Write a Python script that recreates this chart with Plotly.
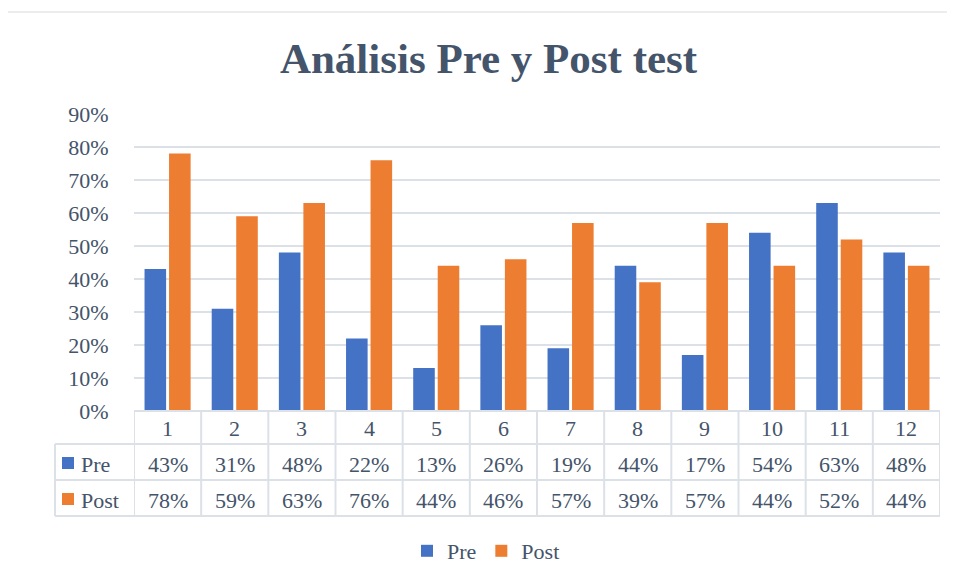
import plotly.graph_objects as go

categories = [1, 2, 3, 4, 5, 6, 7, 8, 9, 10, 11, 12]
pre_values = [43, 31, 48, 22, 13, 26, 19, 44, 17, 54, 63, 48]
post_values = [78, 59, 63, 76, 44, 46, 57, 39, 57, 44, 52, 44]
series_names = ["Pre", "Post"]
colors = ["#4472C4", "#ED7D31"]
title_text = "Análisis Pre y Post test"

W, H = 955, 581
OFF = 8  # page body margin offset
L = 134 - OFF
T = 114 - OFF
PLOT_BOTTOM = 411 - OFF
PLOT_RIGHT = 940 - OFF
R = W - PLOT_RIGHT
B = H - PLOT_BOTTOM
PW = W - L - R
PH = H - T - B
TXT = "#44546A"
GRID = "#DCE1E8"
FONT = "Liberation Serif, Times New Roman, serif"


def px_x(px):
    return (px - OFF - L) / PW


def px_y(py):
    return (PLOT_BOTTOM - (py - OFF)) / PH


fig = go.Figure()
for name, vals, col in zip(series_names, [pre_values, post_values], colors):
    fig.add_trace(go.Bar(x=categories, y=vals, name=name, marker=dict(color=col, line=dict(width=0))))

row_edges = [411, 444, 480, 516]
left_col = 55
n = len(categories)
shapes = []
line_style = dict(color=GRID, width=2)
shapes.append(dict(type="line", xref="paper", yref="paper", x0=0, x1=1,
                   y0=px_y(row_edges[0]), y1=px_y(row_edges[0]), line=line_style))
for ry in row_edges[1:]:
    shapes.append(dict(type="line", xref="paper", yref="paper", x0=px_x(left_col), x1=1,
                       y0=px_y(ry), y1=px_y(ry), line=line_style))
for i in range(n + 1):
    shapes.append(dict(type="line", xref="x", yref="paper", x0=categories[0] - 0.5 + i, x1=categories[0] - 0.5 + i,
                       y0=px_y(row_edges[0]), y1=px_y(row_edges[-1]), line=line_style))
shapes.append(dict(type="line", xref="paper", yref="paper", x0=px_x(left_col), x1=px_x(left_col),
                   y0=px_y(row_edges[1]), y1=px_y(row_edges[-1]), line=line_style))
for k, col in enumerate(colors):
    cy = (row_edges[k + 1] + row_edges[k + 2]) / 2 + 1
    shapes.append(dict(type="rect", xref="paper", yref="paper", x0=px_x(62), x1=px_x(74),
                       y0=px_y(cy - 6), y1=px_y(cy + 6), fillcolor=col, line=dict(width=0)))
shapes.append(dict(type="rect", xref="paper", yref="paper", x0=px_x(5), x1=px_x(970),
                   y0=px_y(600), y1=px_y(12), line=dict(color="#D9D9D9", width=1), fillcolor="rgba(0,0,0,0)",
                   layer="below"))

annotations = []
fs = 22
hdr_y = (row_edges[0] + row_edges[1]) / 2 + 1
for c in categories:
    annotations.append(dict(x=c, xref="x", y=px_y(hdr_y), yref="paper", text=str(c), showarrow=False,
                            font=dict(size=fs, color=TXT, family=FONT), yanchor="middle", xanchor="center"))
for k, (name, vals) in enumerate(zip(series_names, [pre_values, post_values])):
    cy = (row_edges[k + 1] + row_edges[k + 2]) / 2 + 2
    annotations.append(dict(x=px_x(79), xref="paper", y=px_y(cy), yref="paper", text=name, showarrow=False,
                            font=dict(size=fs, color=TXT, family=FONT), yanchor="middle", xanchor="left"))
    for c, v in zip(categories, vals):
        annotations.append(dict(x=c, xref="x", y=px_y(cy), yref="paper", text=f"{v}%", showarrow=False,
                                font=dict(size=fs, color=TXT, family=FONT), yanchor="middle", xanchor="center"))

fig.update_layout(
    width=W, height=H,
    margin=dict(l=L, r=R, t=T, b=B),
    paper_bgcolor="white", plot_bgcolor="white",
    font=dict(family=FONT, color=TXT),
    barmode="group", bargap=0.27, bargroupgap=0.12,
    title=dict(text="<b>" + title_text + "</b>", x=(488.5 - OFF) / W, xanchor="center", xref="container",
               y=1 - (58 - OFF) / H, yanchor="middle", yref="container",
               font=dict(size=43, color=TXT, family=FONT)),
    xaxis=dict(range=[categories[0] - 0.5, categories[-1] + 0.5], showticklabels=False, showgrid=False,
               zeroline=False, showline=False, ticks=""),
    yaxis=dict(range=[0, 90], dtick=10, ticksuffix="%", showgrid=True, gridcolor=GRID, gridwidth=2,
               zeroline=False, showline=False, ticks="outside", ticklen=20, tickcolor="rgba(0,0,0,0)",
               tickfont=dict(size=fs, color=TXT, family=FONT)),
    legend=dict(orientation="h", xref="container", yref="container", x=(486 - OFF) / W, xanchor="center",
                y=1 - (551 - OFF) / H, yanchor="middle", font=dict(size=fs, color=TXT, family=FONT),
                itemwidth=30, tracegroupgap=0),
    shapes=shapes,
    annotations=annotations,
    showlegend=True,
)

fig.write_html("out.html")
